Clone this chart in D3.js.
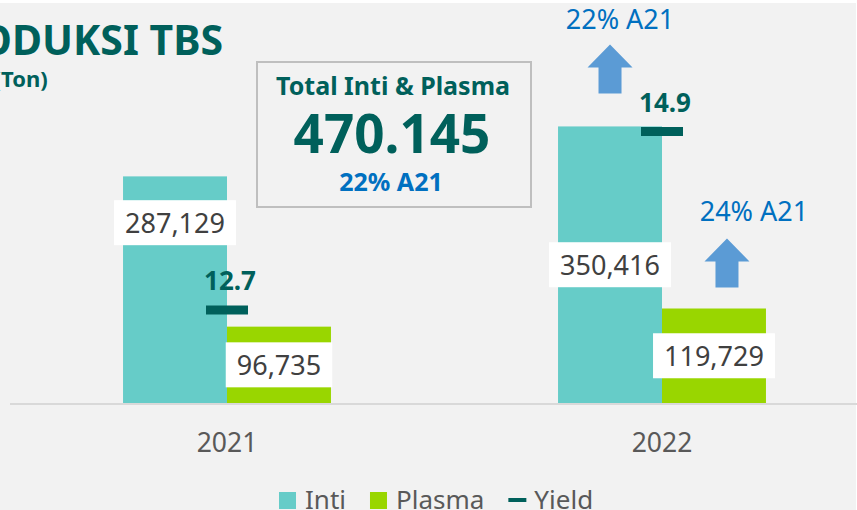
<!DOCTYPE html>
<html><head><meta charset="utf-8">
<script src="https://cdn.jsdelivr.net/npm/d3@7"></script>
<style>html,body{margin:0;padding:0;background:#f2f2f2;overflow:hidden}</style>
</head><body>
<svg id="chart" width="857" height="510"></svg>
<script>
// ---- data ----
const categories = ["2021", "2022"];
const seriesNames = ["Inti", "Plasma"];
const intiValues = [287129, 350416];
const plasmaValues = [96735, 119729];
const yieldValues = [12.7, 14.9];
const legendLabels = ["Inti", "Plasma", "Yield"];
const growthLabels = ["22% A21", "24% A21"];   // 2022 growth vs A21 for Inti, Plasma
const titleText = "PRODUKSI TBS";
const subtitleText = "(Ton)";
const boxTitle = "Total Inti & Plasma";
const boxValue = "470.145";
const boxGrowth = "22% A21";

// ---- styles ----
const C = {
  bg: "#f2f2f2", inti: "#66ccc8", plasma: "#99d600", teal: "#00605b",
  blue: "#0070c0", arrow: "#5b9bd5", label: "#404040", axis: "#d9d9d9",
  legend: "#595959", box: "#bfbfbf"
};
const FONT = "'Noto Sans', 'Open Sans', sans-serif";

const svg = d3.select("#chart").style("font-family", FONT);
svg.append("rect").attr("width", 857).attr("height", 510).attr("fill", C.bg);
svg.append("rect").attr("width", 857).attr("height", 3).attr("fill", "#fff");
svg.append("rect").attr("x", 856).attr("width", 1).attr("height", 510).attr("fill", "#fff");

// ---- scales ----
const x0 = d3.scaleBand().domain(categories).range([9.5, 879.5])
  .paddingInner(0.522).paddingOuter(0.261);
const x1 = d3.scaleBand().domain(seriesNames).range([0, x0.bandwidth()]);
const y = d3.scaleLinear().domain([0, 400000]).range([403, 87.3]);
const y2 = d3.scaleLinear().domain([12, 15]).range([366.8, 123.4]);

const rows = categories.map((c, i) => ({cat: c, Inti: intiValues[i], Plasma: plasmaValues[i], yield: yieldValues[i]}));
const colors = {Inti: C.inti, Plasma: C.plasma};

// ---- axis line ----
svg.append("line").attr("x1", 10).attr("x2", 857).attr("y1", y(0) + 1).attr("y2", y(0) + 1)
  .attr("stroke", C.axis).attr("stroke-width", 2);

// ---- x axis labels ----
const xAxis = d3.axisBottom(x0).tickSize(0).tickPadding(0);
const gx = svg.append("g").attr("transform", `translate(0,${y(0)})`).call(xAxis);
gx.select(".domain").remove();
gx.selectAll("text").attr("font-size", 26.5).attr("fill", C.legend).attr("font-family", FONT)
  .attr("dy", null).attr("y", 49);

// ---- bars ----
const groups = svg.append("g").selectAll("g").data(rows).join("g")
  .attr("transform", d => `translate(${x0(d.cat)},0)`);
groups.selectAll("rect").data(d => seriesNames.map(s => ({cat: d.cat, s, v: d[s]}))).join("rect")
  .attr("x", d => x1(d.s)).attr("width", x1.bandwidth())
  .attr("y", d => y(d.v)).attr("height", d => y(0) - y(d.v))
  .attr("fill", d => colors[d.s]);

// ---- value labels (white boxes) ----
const fmt = d3.format(",");
const labelShift = {"2021-Inti": -67}; // label moved up to clear yield marker
groups.each(function(d) {
  const g = d3.select(this);
  seriesNames.forEach(s => {
    const cx = x1(s) + x1.bandwidth() / 2;
    const cy = (y(d[s]) + y(0)) / 2 + (labelShift[d.cat + "-" + s] || 0);
    const lg = g.append("g");
    const t = lg.append("text").attr("x", cx).attr("y", cy).attr("text-anchor", "middle")
      .attr("dominant-baseline", "central").attr("font-size", 27).attr("fill", C.label)
      .text(fmt(d[s]));
    const w = t.node().getComputedTextLength();
    lg.insert("rect", "text").attr("x", cx - w / 2 - 11).attr("y", cy - 22.5)
      .attr("width", w + 22).attr("height", 45).attr("fill", "#fff");
  });
});

// ---- yield markers ----
const yg = svg.append("g");
rows.forEach(d => {
  const cx = x0(d.cat) + x0.bandwidth() / 2;
  yg.append("line").attr("x1", cx - 21).attr("x2", cx + 21)
    .attr("y1", y2(d.yield)).attr("y2", y2(d.yield))
    .attr("stroke", C.teal).attr("stroke-width", 9);
  yg.append("text").attr("x", cx + 3).attr("y", y2(d.yield) - 20).attr("text-anchor", "middle")
    .attr("font-size", 26).attr("font-weight", "bold").attr("fill", C.teal).text(d.yield.toFixed(1));
});

// ---- growth arrows (2022) ----
const last = rows[rows.length - 1];
const arrowCfg = [{s: "Inti", dx: 0, gap: 33, tdx: 10, tgap: 15}, {s: "Plasma", dx: 13, gap: 21, tdx: 27, tgap: 18}];
arrowCfg.forEach((a, i) => {
  const cx = x0(last.cat) + x1(a.s) + x1.bandwidth() / 2 + a.dx;
  const bottom = y(last[a.s]) - a.gap;
  const top = bottom - 49;
  const path = d3.path();
  path.moveTo(cx, top);
  path.lineTo(cx + 22.5, top + 23);
  path.lineTo(cx + 11.5, top + 23);
  path.lineTo(cx + 11.5, bottom);
  path.lineTo(cx - 11.5, bottom);
  path.lineTo(cx - 11.5, top + 23);
  path.lineTo(cx - 22.5, top + 23);
  path.closePath();
  svg.append("path").attr("d", path.toString()).attr("fill", C.arrow);
  svg.append("text").attr("x", cx + a.tdx).attr("y", top - a.tgap).attr("text-anchor", "middle")
    .attr("font-size", 27).attr("fill", C.blue).text(growthLabels[i]);
});

// ---- total box ----
svg.append("rect").attr("x", 257).attr("y", 62).attr("width", 274).attr("height", 145)
  .attr("fill", C.bg).attr("stroke", C.box).attr("stroke-width", 2);
svg.append("text").attr("x", 393).attr("y", 95).attr("text-anchor", "middle")
  .attr("font-size", 25).attr("font-weight", "bold").attr("fill", C.teal).text(boxTitle);
svg.append("text").attr("x", 392).attr("y", 153).attr("text-anchor", "middle")
  .attr("font-size", 53).attr("font-weight", "bold").attr("fill", C.teal).text(boxValue);
svg.append("text").attr("x", 391).attr("y", 191).attr("text-anchor", "middle")
  .attr("font-size", 25).attr("font-weight", "bold").attr("fill", C.blue).text(boxGrowth);

// ---- title ----
svg.append("text").attr("x", 223).attr("y", 55).attr("text-anchor", "end")
  .attr("font-size", 41).attr("font-weight", "bold").attr("fill", C.teal).text(titleText);
const sub = svg.append("text").attr("y", 87).attr("font-size", 22).attr("font-weight", "bold")
  .attr("fill", C.teal).text(subtitleText);
// opening parenthesis sits just past the left edge, as in the reference
const parenW = sub.node().getSubStringLength(0, 1);
sub.attr("x", -parenW + 1);

// ---- legend ----
const leg = svg.append("g");
let lx = 279;
legendLabels.forEach((name, i) => {
  if (i < 2) {
    leg.append("rect").attr("x", lx).attr("y", 492).attr("width", 17).attr("height", 17)
      .attr("fill", colors[name]);
  } else {
    leg.append("rect").attr("x", lx).attr("y", 498).attr("width", 18).attr("height", 4)
      .attr("fill", C.teal);
  }
  const t = leg.append("text").attr("x", lx + 26).attr("y", 509).attr("font-size", 26)
    .attr("fill", C.legend).text(name);
  lx = lx + 26 + t.node().getComputedTextLength() + 24;
});
</script>
</body></html>
